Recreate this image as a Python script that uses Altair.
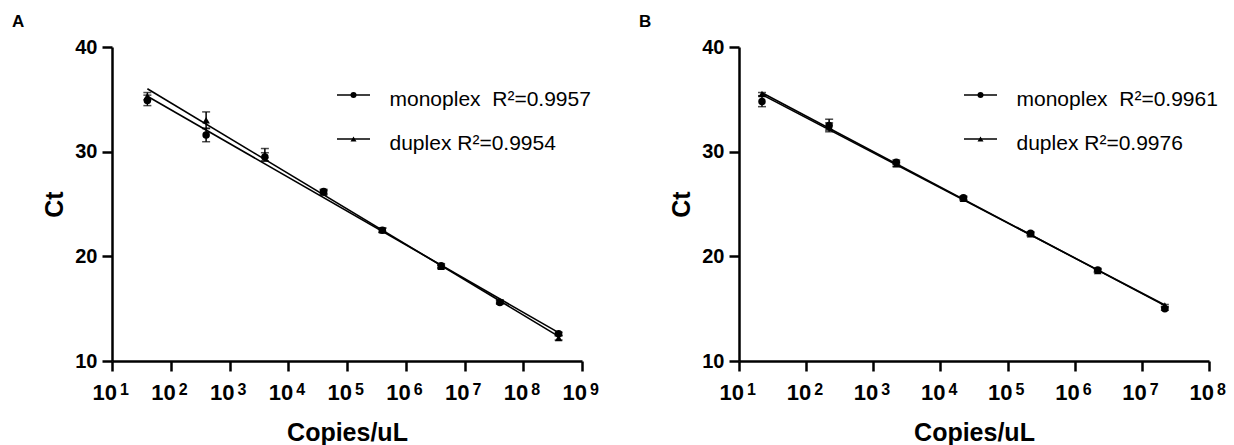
import altair as alt
import pandas as pd

# ---------------- data ----------------
A_conc = [4e1, 4e2, 4e3, 4e4, 4e5, 4e6, 4e7, 4e8]
A_mono_ct = [34.9, 31.6, 29.5, 26.2, 22.5, 19.1, 15.6, 12.6]
A_mono_sd = [0.5, 0.65, 0.4, 0.2, 0.2, 0.2, 0.15, 0.15]
A_dup_ct = [35.3, 33.0, 29.7, 26.1, 22.5, 19.0, 15.7, 12.2]
A_dup_sd = [0.35, 0.8, 0.6, 0.2, 0.2, 0.15, 0.15, 0.2]
A_legend = ["monoplex\u00a0\u00a0R\u00b2=0.9957", "duplex R\u00b2=0.9954"]
A_exps = [1, 2, 3, 4, 5, 6, 7, 8, 9]

B_conc = [2.2e1, 2.2e2, 2.2e3, 2.2e4, 2.2e5, 2.2e6, 2.2e7]
B_mono_ct = [34.8, 32.5, 29.0, 25.6, 22.2, 18.7, 15.0]
B_mono_sd = [0.5, 0.6, 0.2, 0.15, 0.15, 0.15, 0.15]
B_dup_ct = [35.5, 32.4, 28.8, 25.5, 22.1, 18.6, 15.3]
B_dup_sd = [0.15, 0.35, 0.2, 0.15, 0.15, 0.15, 0.1]
B_legend = ["monoplex\u00a0\u00a0R\u00b2=0.9961", "duplex R\u00b2=0.9976"]
B_exps = [1, 2, 3, 4, 5, 6, 7, 8]

series_names = ["monoplex", "duplex"]
y_ticks = [10, 20, 30, 40]

FONT = "Liberation Sans"
W, H = 470, 314


def make_panel(letter, conc, mono_ct, mono_sd, dup_ct, dup_sd, legend_labels, exps):
    rows = []
    for c, v, s in zip(conc, mono_ct, mono_sd):
        rows.append({"conc": c, "ct": v, "sd": s, "series": "monoplex"})
    for c, v, s in zip(conc, dup_ct, dup_sd):
        rows.append({"conc": c, "ct": v, "sd": s, "series": "duplex"})
    df = pd.DataFrame(rows)

    xscale = alt.Scale(type="log", domain=[10 ** exps[0], 10 ** exps[-1]], nice=False)
    xaxis = alt.Axis(values=[10 ** e for e in exps], labels=False, grid=False,
                     tickSize=10, tickWidth=2.5, domainWidth=2.5,
                     domainColor="black", tickColor="black",
                     title="Copies/uL", titleFont=FONT, titleFontSize=25,
                     titleFontWeight="bold", titleColor="black", titlePadding=48)
    yscale = alt.Scale(domain=[10, 40], nice=False, zero=False)
    yaxis = alt.Axis(values=y_ticks, grid=False, tickSize=10, tickWidth=2.5,
                     domainWidth=2.5, domainColor="black", tickColor="black",
                     labelFont=FONT, labelFontSize=20, labelFontWeight="bold",
                     labelColor="black", labelPadding=5,
                     title="Ct", titleFont=FONT, titleFontSize=25,
                     titleFontWeight="bold", titleColor="black", titlePadding=7)

    def X(f):
        return alt.X(f"{f}:Q", scale=xscale, axis=xaxis)

    def Y(f):
        return alt.Y(f"{f}:Q", scale=yscale, axis=yaxis)

    shape = alt.Shape("series:N", scale=alt.Scale(domain=series_names,
                                                  range=["circle", "triangle-up"]),
                      legend=None)

    base = alt.Chart(df)

    reg = base.transform_calculate(logc="log(datum.conc)/LN10").transform_regression(
        "logc", "ct", groupby=["series"]
    ).transform_calculate(conc="pow(10, datum.logc)").mark_line(
        color="black", strokeWidth=1.6
    ).encode(x=X("conc"), y=Y("ct"), detail="series:N")

    err = base.transform_calculate(lo="datum.ct - datum.sd", hi="datum.ct + datum.sd")
    bars = err.mark_rule(color="black", strokeWidth=1.5).encode(
        x=X("conc"), y=Y("lo"), y2="hi:Q")
    cap_lo = err.mark_tick(orient="horizontal", color="black", size=8,
                           thickness=1.5).encode(x=X("conc"), y=Y("lo"))
    cap_hi = err.mark_tick(orient="horizontal", color="black", size=8,
                           thickness=1.5).encode(x=X("conc"), y=Y("hi"))

    pts = base.mark_point(filled=True, size=56, color="black", opacity=1).encode(
        x=X("conc"), y=Y("ct"), shape=shape)

    tdf = pd.DataFrame({"conc": [10 ** e for e in exps],
                        "b": ["10"] * len(exps),
                        "e": [str(e) for e in exps]})
    tbase = alt.Chart(tdf)
    tick_base = tbase.mark_text(font=FONT, fontSize=22, fontWeight="bold",
                                align="right", baseline="alphabetic", dx=5,
                                color="black").encode(
        x=X("conc"), y=alt.value(H + 39), text="b:N")
    tick_exp = tbase.mark_text(font=FONT, fontSize=16, fontWeight="bold",
                               align="left", baseline="alphabetic", dx=8,
                               color="black").encode(
        x=X("conc"), y=alt.value(H + 34), text="e:N")

    legend_layers = []
    legend_y = [48, 92]
    legend_shapes = ["circle", "triangle-up"]
    for lab, ly, shp in zip(legend_labels, legend_y, legend_shapes):
        ldf = pd.DataFrame({"label": [lab]})
        lc = alt.Chart(ldf)
        legend_layers.append(lc.mark_rule(color="black", strokeWidth=1.5).encode(
            x=alt.value(225), x2=alt.value(258), y=alt.value(ly)))
        legend_layers.append(lc.mark_point(filled=True, size=36, color="black",
                                           opacity=1, shape=shp).encode(
            x=alt.value(241.5), y=alt.value(ly)))
        legend_layers.append(lc.mark_text(font=FONT, fontSize=21, align="left",
                                          baseline="alphabetic", color="black").encode(
            x=alt.value(277.5), y=alt.value(ly + 11), text="label:N"))

    layer = alt.layer(reg, bars, cap_lo, cap_hi, pts, tick_base, tick_exp,
                      *legend_layers).properties(
        width=W, height=H,
        title=alt.TitleParams(text=letter, anchor="start", frame="group", dx=-100,
                              dy=27, offset=20, baseline="alphabetic", font=FONT,
                              fontSize=17, fontWeight="bold", color="black"))
    return layer


pA = make_panel("A", A_conc, A_mono_ct, A_mono_sd, A_dup_ct, A_dup_sd, A_legend, A_exps)
pB = make_panel("B", B_conc, B_mono_ct, B_mono_sd, B_dup_ct, B_dup_sd, B_legend, B_exps)

chart = alt.hconcat(pA, pB, spacing=40).properties(
    padding={"left": 4, "top": 5, "right": 0, "bottom": 0},
    background="white",
).configure_view(stroke=None)

chart.save("out.html", embed_options={"renderer": "svg", "actions": False})
